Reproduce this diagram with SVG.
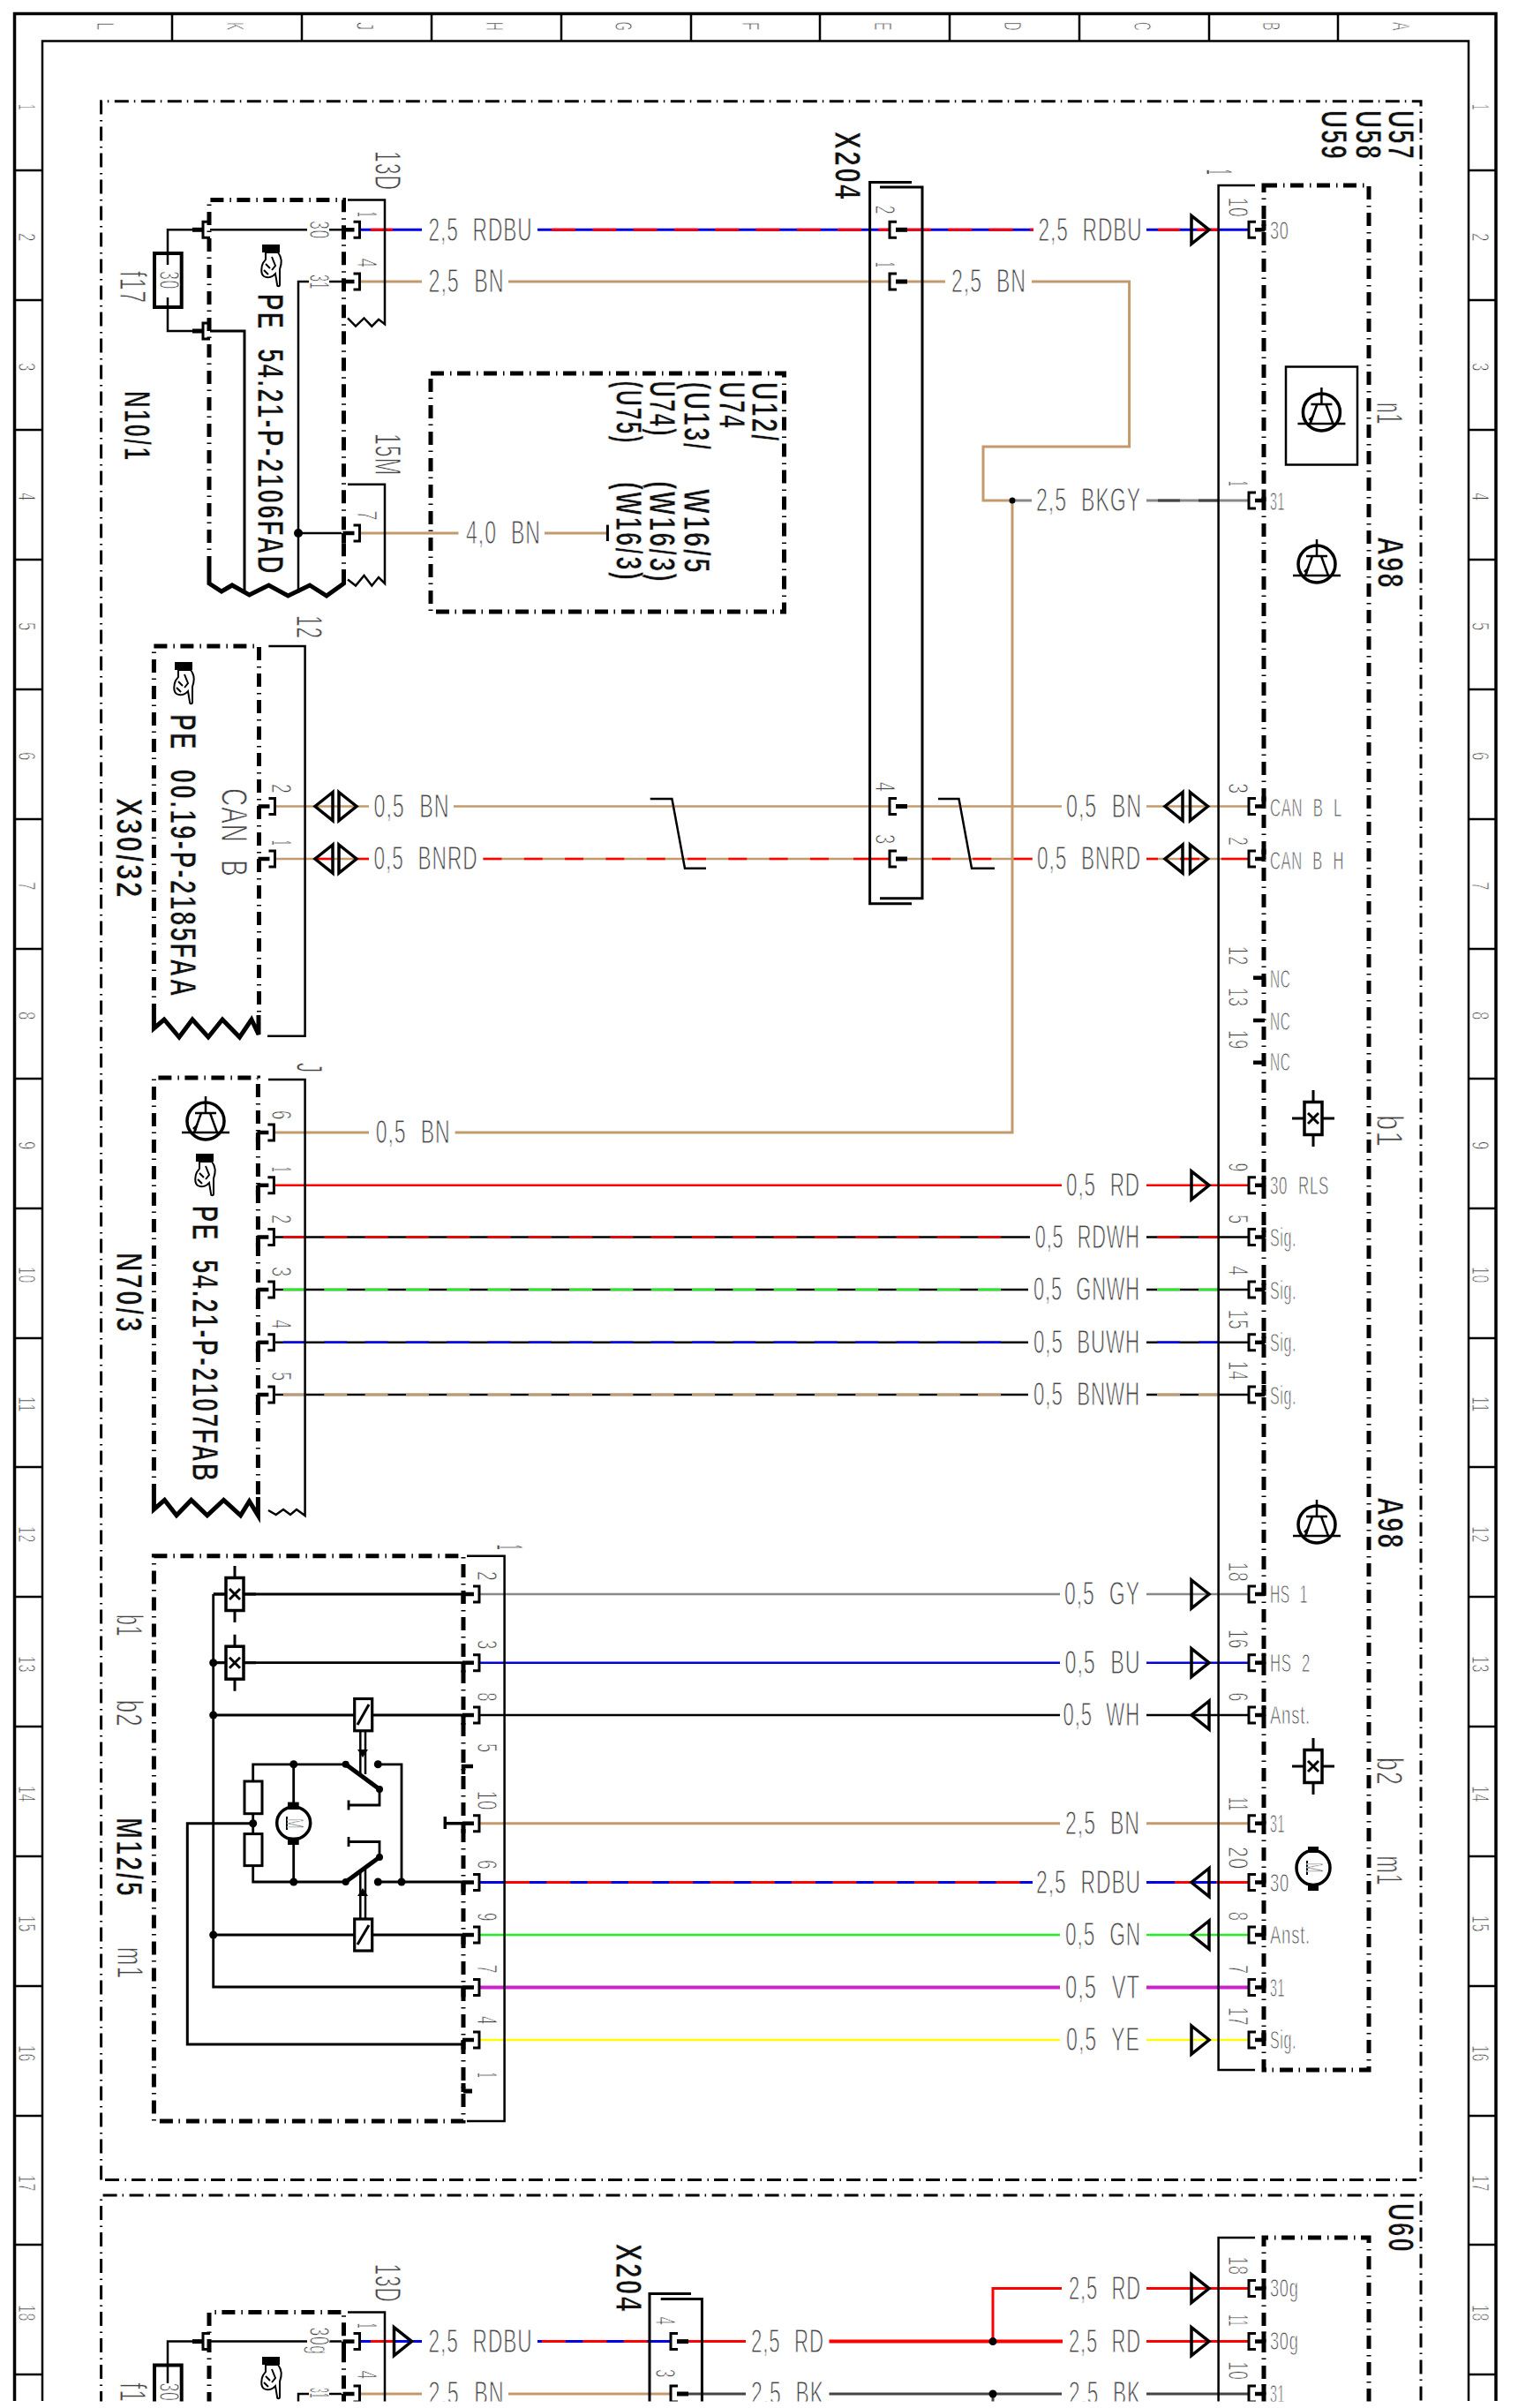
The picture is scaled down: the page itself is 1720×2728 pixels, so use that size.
<svg xmlns="http://www.w3.org/2000/svg" xmlns:xlink="http://www.w3.org/1999/xlink" width="1720" height="2728" viewBox="0 0 1720 2728">
<style>
svg{stroke-width:2.5}
text{font-family:"Liberation Sans",Arial,sans-serif;fill:#444;stroke:#fff;stroke-width:.95;word-spacing:.38em;letter-spacing:.04em}
.wl{font-size:36px}.pl{font-size:30px}.n{font-size:32px}.lb{font-size:42px}.f{font-size:28px}
.b{font-size:43px;font-weight:700;fill:#111;stroke:#fff;stroke-width:.8;letter-spacing:.08em}
path,rect,ellipse,circle{fill:none;stroke:#000}
.fr{stroke-width:3.5}.fi{stroke-width:2.5}.fd{stroke-width:2.5}
.big{stroke-width:3;stroke-dasharray:16 6 1.5 6.5}
.bx{stroke-width:5;stroke-dasharray:15 7 1.5 6.5}
.z{stroke-width:5}.thin{stroke-width:2}
.w{stroke-width:3}.t2{stroke-width:2.6}.t4{stroke-width:4}
.tn{stroke:#c49a6c}.rd{stroke:#f00}.bu{stroke:#0000e6}.gn{stroke:#2e2}.vt{stroke:#c2c}.ye{stroke:#ff0}.gy{stroke:#888}.dk{stroke:#444}.k{stroke:#000}
.d27{stroke-dasharray:27 19.3}.d22{stroke-dasharray:21 25.3}.d26{stroke-dasharray:26 20.3}
.dot{fill:#000;stroke:none}
.tri{stroke-width:3.5}
.w5{fill:#fff;stroke-width:2}
</style>
<defs>
<g id="pL"><path d="M-1,0H12" stroke-width="4.5"/><path d="M0,0V11" stroke-width="5"/><path d="M11,-9H18V9H11" stroke-width="3"/></g>
<g id="pR"><path d="M-10,0H1" stroke-width="4.5"/><path d="M0,1V-11" stroke-width="5"/><path d="M-9,-9H-17V9H-9" stroke-width="3"/></g>
<g id="pX"><path d="M-1,0H12" stroke-width="5"/><path d="M0,-9H-8V9H0" stroke-width="3"/></g>
<g id="pE"><path d="M-19,0H-7" stroke-width="5"/><path d="M1,-9H-7V9H1" stroke-width="3"/></g>
<path id="tR" class="tri" d="M-10,-16L10,0L-10,16Z"/>
<path id="tL" class="tri" d="M10,-16L-10,0L10,16Z"/>
<g id="tr"><circle r="21" stroke-width="3.5"/><path d="M0,-28V-9M-12,-9H12M-5,-9L-13,13M5,-9L13,13M-27,13H27"/><path class="dot" d="M-15,8L-8,2L-11,12Z"/></g>
<g id="sn"><rect x="-10" y="-18.5" width="20" height="37" stroke-width="3.5"/><path d="M0,-32V-18M0,18V32M-24,0H-10M10,0H24" stroke-width="3"/><path d="M-6,-6L6,6M6,-6L-6,6" stroke-width="3"/></g>
<g id="hand"><rect class="dot" x="1" y="0" width="20" height="9"/><path class="w5" d="M5,9H19C23,14 24,20 21,28L21,45C21,48 18,48 18,45L16,33C12,38 6,38 3,36C-1,33 0,25 2,21L5,17Z"/><path class="thin" d="M5,22L10,27M3,29L8,34M12,14L16,24L12,29"/></g>
</defs>

<g id="frame">
<path class="fr" d="M16.5,2720V15.5H1695V2720"/>
<path class="fi" d="M48,2720V46.5H1664V2720"/>
<path class="fd" d="M195,15V46M342,15V46M489,15V46M636,15V46M783,15V46M929,15V46M1076,15V46M1223,15V46M1370,15V46M1516,15V46"/>
<path class="fd" d="M16,193H48M16,340H48M16,487H48M16,634H48M16,781H48M16,928H48M16,1075H48M16,1222H48M16,1369H48M16,1516H48M16,1662H48M16,1809H48M16,1956H48M16,2103H48M16,2250H48M16,2397H48M16,2543H48M16,2690H48"/>
<path class="fd" d="M1664,193H1696M1664,340H1696M1664,487H1696M1664,634H1696M1664,781H1696M1664,928H1696M1664,1075H1696M1664,1222H1696M1664,1369H1696M1664,1516H1696M1664,1662H1696M1664,1809H1696M1664,1956H1696M1664,2103H1696M1664,2250H1696M1664,2397H1696M1664,2543H1696M1664,2690H1696"/>
<text class="f" transform="translate(110,25) rotate(90)" textLength="10" lengthAdjust="spacingAndGlyphs">L</text>
<text class="f" transform="translate(257,25) rotate(90)" textLength="10" lengthAdjust="spacingAndGlyphs">K</text>
<text class="f" transform="translate(404,25) rotate(90)" textLength="10" lengthAdjust="spacingAndGlyphs">J</text>
<text class="f" transform="translate(551,25) rotate(90)" textLength="10" lengthAdjust="spacingAndGlyphs">H</text>
<text class="f" transform="translate(697,25) rotate(90)" textLength="10" lengthAdjust="spacingAndGlyphs">G</text>
<text class="f" transform="translate(841,25) rotate(90)" textLength="10" lengthAdjust="spacingAndGlyphs">F</text>
<text class="f" transform="translate(991,25) rotate(90)" textLength="10" lengthAdjust="spacingAndGlyphs">E</text>
<text class="f" transform="translate(1138,25) rotate(90)" textLength="10" lengthAdjust="spacingAndGlyphs">D</text>
<text class="f" transform="translate(1285,25) rotate(90)" textLength="10" lengthAdjust="spacingAndGlyphs">C</text>
<text class="f" transform="translate(1431,25) rotate(90)" textLength="10" lengthAdjust="spacingAndGlyphs">B</text>
<text class="f" transform="translate(1578,25) rotate(90)" textLength="10" lengthAdjust="spacingAndGlyphs">A</text>

<text class="f" transform="translate(21,118) rotate(90)" textLength="7" lengthAdjust="spacingAndGlyphs">1</text>
<text class="f" transform="translate(21,264) rotate(90)" textLength="10" lengthAdjust="spacingAndGlyphs">2</text>
<text class="f" transform="translate(21,411) rotate(90)" textLength="10" lengthAdjust="spacingAndGlyphs">3</text>
<text class="f" transform="translate(21,558) rotate(90)" textLength="10" lengthAdjust="spacingAndGlyphs">4</text>
<text class="f" transform="translate(21,705) rotate(90)" textLength="10" lengthAdjust="spacingAndGlyphs">5</text>
<text class="f" transform="translate(21,852) rotate(90)" textLength="10" lengthAdjust="spacingAndGlyphs">6</text>
<text class="f" transform="translate(21,999) rotate(90)" textLength="10" lengthAdjust="spacingAndGlyphs">7</text>
<text class="f" transform="translate(21,1146) rotate(90)" textLength="10" lengthAdjust="spacingAndGlyphs">8</text>
<text class="f" transform="translate(21,1293) rotate(90)" textLength="10" lengthAdjust="spacingAndGlyphs">9</text>
<text class="f" transform="translate(21,1435) rotate(90)" textLength="19" lengthAdjust="spacingAndGlyphs">10</text>
<text class="f" transform="translate(21,1582) rotate(90)" textLength="18" lengthAdjust="spacingAndGlyphs">11</text>
<text class="f" transform="translate(21,1729) rotate(90)" textLength="19" lengthAdjust="spacingAndGlyphs">12</text>
<text class="f" transform="translate(21,1876) rotate(90)" textLength="19" lengthAdjust="spacingAndGlyphs">13</text>
<text class="f" transform="translate(21,2023) rotate(90)" textLength="19" lengthAdjust="spacingAndGlyphs">14</text>
<text class="f" transform="translate(21,2170) rotate(90)" textLength="19" lengthAdjust="spacingAndGlyphs">15</text>
<text class="f" transform="translate(21,2317) rotate(90)" textLength="19" lengthAdjust="spacingAndGlyphs">16</text>
<text class="f" transform="translate(21,2464) rotate(90)" textLength="19" lengthAdjust="spacingAndGlyphs">17</text>
<text class="f" transform="translate(21,2611) rotate(90)" textLength="19" lengthAdjust="spacingAndGlyphs">18</text>

<text class="f" transform="translate(1667.5,118) rotate(90)" textLength="7" lengthAdjust="spacingAndGlyphs">1</text>
<text class="f" transform="translate(1667.5,264) rotate(90)" textLength="10" lengthAdjust="spacingAndGlyphs">2</text>
<text class="f" transform="translate(1667.5,411) rotate(90)" textLength="10" lengthAdjust="spacingAndGlyphs">3</text>
<text class="f" transform="translate(1667.5,558) rotate(90)" textLength="10" lengthAdjust="spacingAndGlyphs">4</text>
<text class="f" transform="translate(1667.5,705) rotate(90)" textLength="10" lengthAdjust="spacingAndGlyphs">5</text>
<text class="f" transform="translate(1667.5,852) rotate(90)" textLength="10" lengthAdjust="spacingAndGlyphs">6</text>
<text class="f" transform="translate(1667.5,999) rotate(90)" textLength="10" lengthAdjust="spacingAndGlyphs">7</text>
<text class="f" transform="translate(1667.5,1146) rotate(90)" textLength="10" lengthAdjust="spacingAndGlyphs">8</text>
<text class="f" transform="translate(1667.5,1293) rotate(90)" textLength="10" lengthAdjust="spacingAndGlyphs">9</text>
<text class="f" transform="translate(1667.5,1435) rotate(90)" textLength="19" lengthAdjust="spacingAndGlyphs">10</text>
<text class="f" transform="translate(1667.5,1582) rotate(90)" textLength="18" lengthAdjust="spacingAndGlyphs">11</text>
<text class="f" transform="translate(1667.5,1729) rotate(90)" textLength="19" lengthAdjust="spacingAndGlyphs">12</text>
<text class="f" transform="translate(1667.5,1876) rotate(90)" textLength="19" lengthAdjust="spacingAndGlyphs">13</text>
<text class="f" transform="translate(1667.5,2023) rotate(90)" textLength="19" lengthAdjust="spacingAndGlyphs">14</text>
<text class="f" transform="translate(1667.5,2170) rotate(90)" textLength="19" lengthAdjust="spacingAndGlyphs">15</text>
<text class="f" transform="translate(1667.5,2317) rotate(90)" textLength="19" lengthAdjust="spacingAndGlyphs">16</text>
<text class="f" transform="translate(1667.5,2464) rotate(90)" textLength="19" lengthAdjust="spacingAndGlyphs">17</text>
<text class="f" transform="translate(1667.5,2611) rotate(90)" textLength="19" lengthAdjust="spacingAndGlyphs">18</text>
</g>

<g id="scope-U57-U58-U59">
<path class="big" d="M114.6,2469.6V114.8H1610V2469.6Z"/>
<text class="b" transform="translate(1573,125) rotate(90)" textLength="57" lengthAdjust="spacingAndGlyphs">U57</text>
<text class="b" transform="translate(1536,125) rotate(90)" textLength="57" lengthAdjust="spacingAndGlyphs">U58</text>
<text class="b" transform="translate(1497,125) rotate(90)" textLength="57" lengthAdjust="spacingAndGlyphs">U59</text>
</g>
<g id="scope-U60">
<path class="big" d="M114.6,2725V2487H1610V2725"/>
<text class="b" transform="translate(1573,2496) rotate(90)" textLength="57" lengthAdjust="spacingAndGlyphs">U60</text>
</g>

<g id="connectors">
<path class="w bu" d="M407,260.3H478M609,260.3H1008M1028,260.3H1171M1299,260.3H1415"/>
<path class="w rd" d="M420,260.3H445M1312,260.3H1337M1356,260.3H1381"/>
<path class="w rd d27" d="M625,260.3H1008M1028,260.3H1171"/>
<path class="w tn" d="M407,319H478M576,319H1008M1028,319H1071M1169,319H1279.6V506H1114V567H1147V1283H515.6M312,1283H418"/>
<path class="w gy" d="M1147,567H1169M1299,567H1415"/>
<path class="w dk" d="M1312,567H1337M1358,567H1381"/>
<circle class="dot" cx="1147" cy="567" r="3.5"/>
<path class="w tn" d="M407,604H519.5M617,604H688.4"/>
<path class="w" d="M688.4,594.6V613"/>
<path class="t2 tn" d="M312,913.5H418M514,913.5H1008M1028,913.5H1203M1299,913.5H1415"/>
<path class="t2 tn" d="M312,973H418M547.5,973H1008M1028,973H1170M1299,973H1415"/>
<path class="t2 rd" d="M356.6,973H378M402,973H418M1299,973H1312M1337,973H1359M1384,973H1415M967,973H1008"/>
<path class="t2 rd d22" d="M547.5,973H960M1056,973H1170"/>
<path d="M736.7,905H761.4L776,983.7H800"/>
<path d="M1063,905H1086.5L1101,983.7H1127"/>
<path class="t2 rd" d="M312,1342.8H1203M1299,1342.8H1415"/>
<path class="t2 k" d="M312,1401.5H1167M1299,1401.5H1415M312,1461H1165M1299,1461H1415M312,1520.8H1165M1299,1520.8H1415M312,1580H1165M1299,1580H1415"/>
<path class="t2 rd d26" d="M321,1401.5H1136"/><path class="t2 rd" d="M1311,1401.5H1337M1358,1401.5H1381"/>
<path class="t2 gn d26" d="M321,1461H1136"/><path class="t2 gn" d="M1311,1461H1337M1358,1461H1381"/>
<path class="t2 bu d26" d="M321,1520.8H1136"/><path class="t2 bu" d="M1311,1520.8H1337M1358,1520.8H1381"/>
<path class="t2 tn d26" d="M321,1580H1136"/><path class="t2 tn" d="M1311,1580H1337M1358,1580H1381"/>
<path class="t2 gy" d="M543,1806H1201M1299,1806H1415"/>
<path class="t2 bu" d="M543,1883.7H1201M1299,1883.7H1415"/>
<path class="t2 k" d="M543,1943H1201M1299,1943H1415"/>
<path class="w tn" d="M543,2065.7H1201M1299,2065.7H1415"/>
<path class="w bu" d="M543,2132.5H1170M1299,2132.5H1415"/>
<path class="w rd d27" d="M573,2132.5H1170"/><path class="w rd" d="M1331,2132.5H1350M1378,2132.5H1415"/>
<path class="t2 gn" d="M543,2192H1201M1299,2192H1415"/>
<path class="t4 vt" d="M543,2251.5H1201M1299,2251.5H1415"/>
<path class="t2 ye" d="M543,2311H1201M1299,2311H1415"/>

<path class="w bu" d="M407,2652.6H478M609,2652.6H760"/>
<path class="w rd" d="M420,2652.6H445M779,2652.6H845M1299,2652.6H1415M1125,2652.6V2592.6H1203M1299,2592.6H1415"/>
<path class="w rd d27" d="M614,2652.6H745"/>
<path class="t4 rd" d="M939.5,2652.6H1204"/>
<circle class="dot" cx="1125" cy="2652.6" r="4.5"/>
<path class="w tn" d="M407,2712H478M576,2712H760"/>
<path class="w dk" d="M779,2712H845M939.5,2712H1203M1299,2712H1415M1125,2712V2725"/>
<circle class="dot" cx="1125" cy="2712" r="4.5"/>

<use href="#tR" x="1360" y="260.3"/>
<use href="#tL" x="367" y="913.5"/><use href="#tR" x="394" y="913.5"/>
<use href="#tL" x="367" y="973"/><use href="#tR" x="394" y="973"/>
<use href="#tL" x="1330" y="913.5"/><use href="#tR" x="1358.5" y="913.5"/>
<use href="#tL" x="1330" y="973"/><use href="#tR" x="1358.5" y="973"/>
<use href="#tR" x="1360" y="1342.8"/>
<use href="#tR" x="1360" y="1806"/>
<use href="#tR" x="1360" y="1883.7"/>
<use href="#tL" x="1360" y="1943"/>
<use href="#tL" x="1360" y="2132.5"/>
<use href="#tL" x="1360" y="2192"/>
<use href="#tR" x="1360" y="2311"/>
<use href="#tR" x="1360" y="2592.6"/>
<use href="#tR" x="1360" y="2652.6"/>
<use href="#tR" x="456.5" y="2652.6"/>

<text class="wl" x="485.5" y="272.5" textLength="118" lengthAdjust="spacingAndGlyphs">2,5 RDBU</text>
<text class="wl" x="1176.5" y="272.5" textLength="118" lengthAdjust="spacingAndGlyphs">2,5 RDBU</text>
<text class="wl" x="485.5" y="331" textLength="86" lengthAdjust="spacingAndGlyphs">2,5 BN</text>
<text class="wl" x="1078" y="331" textLength="85" lengthAdjust="spacingAndGlyphs">2,5 BN</text>
<text class="wl" x="1174" y="579" textLength="119" lengthAdjust="spacingAndGlyphs">2,5 BKGY</text>
<text class="wl" x="528" y="616" textLength="85" lengthAdjust="spacingAndGlyphs">4,0 BN</text>
<text class="wl" x="423.5" y="925.5" textLength="86" lengthAdjust="spacingAndGlyphs">0,5 BN</text>
<text class="wl" x="423.5" y="985" textLength="118" lengthAdjust="spacingAndGlyphs">0,5 BNRD</text>
<text class="wl" x="1208" y="925.5" textLength="86" lengthAdjust="spacingAndGlyphs">0,5 BN</text>
<text class="wl" x="1175" y="985" textLength="118" lengthAdjust="spacingAndGlyphs">0,5 BNRD</text>
<text class="wl" x="425.7" y="1295" textLength="85" lengthAdjust="spacingAndGlyphs">0,5 BN</text>
<text class="wl" x="1208" y="1355" textLength="84" lengthAdjust="spacingAndGlyphs">0,5 RD</text>
<text class="wl" x="1172.7" y="1413.5" textLength="119" lengthAdjust="spacingAndGlyphs">0,5 RDWH</text>
<text class="wl" x="1171" y="1473" textLength="121" lengthAdjust="spacingAndGlyphs">0,5 GNWH</text>
<text class="wl" x="1171" y="1533" textLength="121" lengthAdjust="spacingAndGlyphs">0,5 BUWH</text>
<text class="wl" x="1171" y="1592" textLength="121" lengthAdjust="spacingAndGlyphs">0,5 BNWH</text>
<text class="wl" x="1206" y="1818" textLength="86" lengthAdjust="spacingAndGlyphs">0,5 GY</text>
<text class="wl" x="1206.5" y="1896" textLength="86" lengthAdjust="spacingAndGlyphs">0,5 BU</text>
<text class="wl" x="1204.5" y="1955" textLength="87.5" lengthAdjust="spacingAndGlyphs">0,5 WH</text>
<text class="wl" x="1207" y="2078" textLength="85" lengthAdjust="spacingAndGlyphs">2,5 BN</text>
<text class="wl" x="1174" y="2144.5" textLength="119" lengthAdjust="spacingAndGlyphs">2,5 RDBU</text>
<text class="wl" x="1207" y="2204" textLength="86" lengthAdjust="spacingAndGlyphs">0,5 GN</text>
<text class="wl" x="1207" y="2263.5" textLength="85" lengthAdjust="spacingAndGlyphs">0,5 VT</text>
<text class="wl" x="1208" y="2323" textLength="84" lengthAdjust="spacingAndGlyphs">0,5 YE</text>
<text class="wl" x="1211" y="2604.5" textLength="82" lengthAdjust="spacingAndGlyphs">2,5 RD</text>
<text class="wl" x="1211" y="2664.5" textLength="82" lengthAdjust="spacingAndGlyphs">2,5 RD</text>
<text class="wl" x="1211" y="2724" textLength="82" lengthAdjust="spacingAndGlyphs">2,5 BK</text>
<text class="wl" x="485.5" y="2664.7" textLength="118" lengthAdjust="spacingAndGlyphs">2,5 RDBU</text>
<text class="wl" x="485.5" y="2724" textLength="86" lengthAdjust="spacingAndGlyphs">2,5 BN</text>
<text class="wl" x="851" y="2664.7" textLength="83" lengthAdjust="spacingAndGlyphs">2,5 RD</text>
<text class="wl" x="851" y="2724" textLength="83" lengthAdjust="spacingAndGlyphs">2,5 BK</text>
</g>

<g id="node-N10-1">
<path class="bx" d="M237,645V226.4H389.5V645"/>
<path class="z" d="M237,645V661L251,670L263,663L282.5,674L304.5,663L326.4,675L351,663L370,675L389.5,661V645"/>
<path d="M190,300V260.3H218M190,337V375H218M238,260.3H348M373,260.3H387M373,319H387M350,319H338V672M338,604H387"/>
<path d="M238,375H277V672" stroke-width="3"/>
<circle class="dot" cx="338" cy="604" r="5"/>
<rect x="175" y="287" width="30.7" height="61" stroke-width="4"/>
<path d="M394,226.4H436V367.3L429,361.8L421.3,369.6L412.5,360.4L403,369.6L394,360.4"/>
<path d="M394,548.7H436V661L429,654L421.3,663.5L412.5,652L403,663.5L394,656.6"/>
<use href="#pL" x="389.5" y="260.3"/><use href="#pL" x="389.5" y="319"/><use href="#pL" x="389.5" y="604"/>
<use href="#pE" x="237" y="260.3"/><use href="#pE" x="237" y="375"/>
<use href="#hand" x="296" y="277"/>
<text class="n" transform="translate(351,250) rotate(90)" textLength="21" lengthAdjust="spacingAndGlyphs">30</text>
<text class="n" transform="translate(351,311) rotate(90)" textLength="17" lengthAdjust="spacingAndGlyphs">31</text>
<text class="n" transform="translate(181,307) rotate(90)" textLength="21" lengthAdjust="spacingAndGlyphs">30</text>
<text class="lb" transform="translate(136,307) rotate(90)" textLength="37" lengthAdjust="spacingAndGlyphs">f17</text>
<text class="lb" transform="translate(425,171) rotate(90)" textLength="45" lengthAdjust="spacingAndGlyphs">13D</text>
<text class="lb" transform="translate(425,491) rotate(90)" textLength="48" lengthAdjust="spacingAndGlyphs">15M</text>
<text class="n" transform="translate(405,240) rotate(90)" textLength="6" lengthAdjust="spacingAndGlyphs">1</text>
<text class="n" transform="translate(405,292.5) rotate(90)" textLength="11.5" lengthAdjust="spacingAndGlyphs">4</text>
<text class="n" transform="translate(405,578.5) rotate(90)" textLength="11.5" lengthAdjust="spacingAndGlyphs">7</text>
<text class="b" transform="translate(292,333) rotate(90)" textLength="319" lengthAdjust="spacingAndGlyphs">PE 54.21-P-2106FAD</text>
<text class="b" transform="translate(141,443) rotate(90)" textLength="80" lengthAdjust="spacingAndGlyphs">N10/1</text>
</g>

<g id="node-U12">
<path class="bx" d="M488,423H888.5V693H488Z"/>
<text class="b" transform="translate(852,433) rotate(90)" textLength="69" lengthAdjust="spacingAndGlyphs">U12/</text>
<text class="b" transform="translate(814.6,432.5) rotate(90)" textLength="54" lengthAdjust="spacingAndGlyphs">U74</text>
<text class="b" transform="translate(775,432.5) rotate(90)" textLength="79" lengthAdjust="spacingAndGlyphs">(U13/</text>
<text class="b" transform="translate(736,431.6) rotate(90)" textLength="64" lengthAdjust="spacingAndGlyphs">U74)</text>
<text class="b" transform="translate(698,431.6) rotate(90)" textLength="72" lengthAdjust="spacingAndGlyphs">(U75)</text>
<text class="b" transform="translate(775,554) rotate(90)" textLength="97" lengthAdjust="spacingAndGlyphs">W16/5</text>
<text class="b" transform="translate(736,545) rotate(90)" textLength="116" lengthAdjust="spacingAndGlyphs">(W16/3)</text>
<text class="b" transform="translate(698,546) rotate(90)" textLength="113" lengthAdjust="spacingAndGlyphs">(W16/3)</text>
</g>

<g id="node-X204">
<path class="w" d="M1033,206.6H985.6V1023.7H1033"/>
<path class="w" d="M997,212H1045V1017.7H997"/>
<use href="#pX" x="1016" y="260.3"/><use href="#pX" x="1016" y="319"/><use href="#pX" x="1016" y="913.5"/><use href="#pX" x="1016" y="973"/>
<text class="b" transform="translate(946,149) rotate(90)" textLength="79" lengthAdjust="spacingAndGlyphs">X204</text>
<text class="n" transform="translate(992,232.8) rotate(90)" textLength="10.5" lengthAdjust="spacingAndGlyphs">2</text>
<text class="n" transform="translate(992,297) rotate(90)" textLength="6" lengthAdjust="spacingAndGlyphs">1</text>
<text class="n" transform="translate(992,886) rotate(90)" textLength="11.5" lengthAdjust="spacingAndGlyphs">4</text>
<text class="n" transform="translate(992,945) rotate(90)" textLength="12" lengthAdjust="spacingAndGlyphs">3</text>
</g>

<g id="node-X30-32">
<path class="bx" d="M174.4,1152V732H293.5V1150"/>
<path class="z" d="M174.4,1152V1165L186,1155L203,1175L218,1155L236,1175L252,1155L271.5,1175L285,1155L293,1172V1150"/>
<path d="M304.4,732H345.6V1173.8H303"/>
<use href="#pL" x="293.5" y="913.5"/><use href="#pL" x="293.5" y="973"/>
<use href="#hand" x="197" y="750"/>
<text class="lb" transform="translate(336,697) rotate(90)" textLength="27" lengthAdjust="spacingAndGlyphs">12</text>
<text class="n" transform="translate(308,888) rotate(90)" textLength="11.5" lengthAdjust="spacingAndGlyphs">2</text>
<text class="n" transform="translate(308,952) rotate(90)" textLength="6" lengthAdjust="spacingAndGlyphs">1</text>
<text class="lb" transform="translate(251,893) rotate(90)" textLength="101" lengthAdjust="spacingAndGlyphs">CAN B</text>
<text class="b" transform="translate(193,809) rotate(90)" textLength="322" lengthAdjust="spacingAndGlyphs">PE 00.19-P-2185FAA</text>
<text class="b" transform="translate(132,904) rotate(90)" textLength="115" lengthAdjust="spacingAndGlyphs">X30/32</text>
</g>

<g id="node-N70-3">
<path class="bx" d="M174.4,1696V1221H292.4V1696"/>
<path class="z" d="M174.4,1696V1710L186.5,1699.4L200,1716.8L216.7,1699.4L234.8,1716.8L253.4,1699.4L272.6,1716.8L282.5,1700.7L292.4,1716.8V1696"/>
<path d="M304,1223H345.6V1717L336,1710L329,1716L321,1710L312.7,1716L304,1711"/>
<use href="#pL" x="292.4" y="1283"/><use href="#pL" x="292.4" y="1342.8"/><use href="#pL" x="292.4" y="1401.5"/><use href="#pL" x="292.4" y="1461"/><use href="#pL" x="292.4" y="1520.8"/><use href="#pL" x="292.4" y="1580"/>
<use href="#tr" x="233" y="1270"/>
<use href="#hand" x="221" y="1307"/>
<text class="lb" transform="translate(336,1204) rotate(90)" textLength="12" lengthAdjust="spacingAndGlyphs">J</text>
<text class="n" transform="translate(308,1258) rotate(90)" textLength="11" lengthAdjust="spacingAndGlyphs">6</text>
<text class="n" transform="translate(308,1322) rotate(90)" textLength="6" lengthAdjust="spacingAndGlyphs">1</text>
<text class="n" transform="translate(308,1376) rotate(90)" textLength="11" lengthAdjust="spacingAndGlyphs">2</text>
<text class="n" transform="translate(308,1435) rotate(90)" textLength="12" lengthAdjust="spacingAndGlyphs">3</text>
<text class="n" transform="translate(308,1495) rotate(90)" textLength="11" lengthAdjust="spacingAndGlyphs">4</text>
<text class="n" transform="translate(308,1554) rotate(90)" textLength="11" lengthAdjust="spacingAndGlyphs">5</text>
<text class="b" transform="translate(218,1366) rotate(90)" textLength="314" lengthAdjust="spacingAndGlyphs">PE 54.21-P-2107FAB</text>
<text class="b" transform="translate(132,1419) rotate(90)" textLength="92" lengthAdjust="spacingAndGlyphs">N70/3</text>
</g>

<g id="node-M12-5">
<path class="bx" d="M174.4,1762.7H525V2403H174.4Z"/>
<path d="M529,1762.7H571.6V2403H529"/>
<path d="M276,1806H524M276,1883.7H524M241.7,1806V2251H524M241.7,1806H256M241.7,1883.7H256M241.7,1943H524M241.7,2192H524" stroke-width="2.8"/>
<path d="M286.7,2065.7H212.3V2316H524" stroke-width="3"/>
<use href="#sn" x="266" y="1806"/><use href="#sn" x="266" y="1883.7"/>
<circle class="dot" cx="241.7" cy="1883.7" r="4.5"/><circle class="dot" cx="241.7" cy="1943" r="4.5"/><circle class="dot" cx="241.7" cy="2192" r="4.5"/>
<rect x="401.7" y="1924.5" width="20" height="36.3" stroke-width="3.2" style="fill:#fff"/>
<path d="M405,1954L418,1931" stroke-width="3"/>
<rect x="401.7" y="2174" width="20" height="36" stroke-width="3.2" style="fill:#fff"/>
<path d="M405,2203L418,2181" stroke-width="3"/>
<path d="M408.3,1961V2010M414,1961V2010M408.3,2118V2174M414,2118V2174"/>
<path class="dot" d="M405,1982H417L411,1991Z"/><path class="dot" d="M405,2148H417L411,2139Z"/>
<path d="M391.7,1998.8L430,2027" stroke-width="5"/><path d="M391.7,2132L430,2104" stroke-width="5"/>
<circle class="dot" cx="391.7" cy="1998.8" r="4"/><circle class="dot" cx="430" cy="2027" r="4"/><circle class="dot" cx="391.7" cy="2132" r="4"/><circle class="dot" cx="430" cy="2104" r="4"/>
<circle class="dot" cx="428.3" cy="1998.8" r="4.5"/><circle class="dot" cx="428.3" cy="2132" r="4.5"/>
<circle class="dot" cx="332.7" cy="1998.8" r="4.5"/><circle class="dot" cx="332.7" cy="2132" r="4.5"/><circle class="dot" cx="455" cy="2132" r="4.5"/><circle class="dot" cx="286.7" cy="2065.7" r="4.5"/>
<path d="M428.3,1998.8H455V2132M428.3,2132H524M286.7,2018V1998.8H391.7M286.7,2113.5V2132H391.7M286.7,2054.7V2077.6M332.7,1998.8V2042M332.7,2090V2132M430,2027V2045H395M395,2039.6V2050.6M430,2104V2086.5H395M395,2081V2092" stroke-width="2.8"/>
<rect x="277" y="2018" width="20" height="36.7" stroke-width="3"/><rect x="277" y="2077.6" width="20" height="36" stroke-width="3"/>
<ellipse cx="332.7" cy="2065.3" rx="19" ry="18.4" stroke-width="3.5"/>
<rect class="dot" x="326" y="2041.6" width="12.7" height="8.4"/><rect class="dot" x="326" y="2081.6" width="12.7" height="8.4"/>
<path d="M325,2058V2073" stroke-width="2"/>
<text transform="translate(326,2060) rotate(90)" font-size="26" textLength="12" lengthAdjust="spacingAndGlyphs">M</text>
<path d="M504.3,2058V2072" stroke-width="3.5"/><path d="M504.3,2065.7H525" stroke-width="3.5"/>
<use href="#pL" x="525" y="1806"/><use href="#pL" x="525" y="1883.7"/><use href="#pL" x="525" y="1943"/><use href="#pL" x="525" y="2065.7"/><use href="#pL" x="525" y="2132.5"/><use href="#pL" x="525" y="2192"/><use href="#pL" x="525" y="2251.5"/><use href="#pL" x="525" y="2311"/>
<path d="M525,2010V2001H536" stroke-width="4.5"/><path d="M525,2369H535" stroke-width="5"/><path d="M525,2360V2370" stroke-width="5"/>
<text class="lb" transform="translate(563,1750) rotate(90)" textLength="6" lengthAdjust="spacingAndGlyphs">1</text>
<text class="n" transform="translate(541.4,1780) rotate(90)" textLength="11.5" lengthAdjust="spacingAndGlyphs">2</text>
<text class="n" transform="translate(541.4,1858) rotate(90)" textLength="11" lengthAdjust="spacingAndGlyphs">3</text>
<text class="n" transform="translate(541.4,1917.4) rotate(90)" textLength="10.5" lengthAdjust="spacingAndGlyphs">8</text>
<text class="n" transform="translate(541.4,1975) rotate(90)" textLength="11" lengthAdjust="spacingAndGlyphs">5</text>
<text class="n" transform="translate(541.4,2029) rotate(90)" textLength="22" lengthAdjust="spacingAndGlyphs">10</text>
<text class="n" transform="translate(541.4,2107) rotate(90)" textLength="11.5" lengthAdjust="spacingAndGlyphs">6</text>
<text class="n" transform="translate(541.4,2167) rotate(90)" textLength="10" lengthAdjust="spacingAndGlyphs">9</text>
<text class="n" transform="translate(541.4,2226) rotate(90)" textLength="10" lengthAdjust="spacingAndGlyphs">7</text>
<text class="n" transform="translate(541.4,2284) rotate(90)" textLength="10" lengthAdjust="spacingAndGlyphs">4</text>
<text class="n" transform="translate(541.4,2348) rotate(90)" textLength="6" lengthAdjust="spacingAndGlyphs">1</text>
<text class="lb" transform="translate(132,1829) rotate(90)" textLength="25.5" lengthAdjust="spacingAndGlyphs">b1</text>
<text class="lb" transform="translate(132,1925.7) rotate(90)" textLength="31" lengthAdjust="spacingAndGlyphs">b2</text>
<text class="b" transform="translate(132,2059) rotate(90)" textLength="91" lengthAdjust="spacingAndGlyphs">M12/5</text>
<text class="lb" transform="translate(133,2206) rotate(90)" textLength="36" lengthAdjust="spacingAndGlyphs">m1</text>
</g>

<g id="node-A98">
<path class="bx" d="M1432,210H1551V2345H1432Z"/>
<path d="M1422,210H1380.6V2345H1422"/>
<rect x="1457" y="415.5" width="81" height="111" stroke-width="2.5"/>
<use href="#tr" x="1497.4" y="467"/><use href="#tr" x="1492" y="639"/><use href="#tr" x="1492" y="1727"/>
<use href="#sn" x="1488" y="1267"/><use href="#sn" x="1488" y="2001"/>
<ellipse cx="1488" cy="2116" rx="19" ry="19.5" stroke-width="3.5"/>
<rect class="dot" x="1482" y="2092" width="12" height="7"/><rect class="dot" x="1482" y="2134" width="12" height="8"/>
<path d="M1481,2108V2124" stroke-width="2"/>
<text transform="translate(1481,2110) rotate(90)" font-size="26" textLength="12" lengthAdjust="spacingAndGlyphs">M</text>
<use href="#pR" x="1432" y="260.3"/><use href="#pR" x="1432" y="567"/><use href="#pR" x="1432" y="913.5"/><use href="#pR" x="1432" y="973"/>
<path d="M1420,1107.7H1433M1432,1107V1118M1420,1156H1433M1420,1203.7H1433" stroke-width="4.5"/>
<use href="#pR" x="1432" y="1342.8"/><use href="#pR" x="1432" y="1401.5"/><use href="#pR" x="1432" y="1461"/><use href="#pR" x="1432" y="1520.8"/><use href="#pR" x="1432" y="1580"/>
<use href="#pR" x="1432" y="1806"/><use href="#pR" x="1432" y="1883.7"/><use href="#pR" x="1432" y="1943"/><use href="#pR" x="1432" y="2065.7"/><use href="#pR" x="1432" y="2132.5"/><use href="#pR" x="1432" y="2192"/><use href="#pR" x="1432" y="2251.5"/><use href="#pR" x="1432" y="2311"/>
<text class="lb" transform="translate(1367,192) rotate(90)" textLength="6" lengthAdjust="spacingAndGlyphs">1</text>
<text class="n" transform="translate(1392,223.6) rotate(90)" textLength="23" lengthAdjust="spacingAndGlyphs">10</text>
<text class="n" transform="translate(1392,545) rotate(90)" textLength="6" lengthAdjust="spacingAndGlyphs">1</text>
<text class="n" transform="translate(1392,887) rotate(90)" textLength="13" lengthAdjust="spacingAndGlyphs">3</text>
<text class="n" transform="translate(1392,948) rotate(90)" textLength="10.5" lengthAdjust="spacingAndGlyphs">2</text>
<text class="n" transform="translate(1392,1072) rotate(90)" textLength="22" lengthAdjust="spacingAndGlyphs">12</text>
<text class="n" transform="translate(1392,1118.7) rotate(90)" textLength="22" lengthAdjust="spacingAndGlyphs">13</text>
<text class="n" transform="translate(1392,1167) rotate(90)" textLength="22" lengthAdjust="spacingAndGlyphs">19</text>
<text class="n" transform="translate(1392,1317.5) rotate(90)" textLength="10.5" lengthAdjust="spacingAndGlyphs">9</text>
<text class="n" transform="translate(1392,1376) rotate(90)" textLength="11" lengthAdjust="spacingAndGlyphs">5</text>
<text class="n" transform="translate(1392,1434) rotate(90)" textLength="12" lengthAdjust="spacingAndGlyphs">4</text>
<text class="n" transform="translate(1392,1483.6) rotate(90)" textLength="23" lengthAdjust="spacingAndGlyphs">15</text>
<text class="n" transform="translate(1392,1542) rotate(90)" textLength="22" lengthAdjust="spacingAndGlyphs">14</text>
<text class="n" transform="translate(1392,1769.6) rotate(90)" textLength="23" lengthAdjust="spacingAndGlyphs">18</text>
<text class="n" transform="translate(1392,1846) rotate(90)" textLength="22" lengthAdjust="spacingAndGlyphs">16</text>
<text class="n" transform="translate(1392,1917.4) rotate(90)" textLength="10.5" lengthAdjust="spacingAndGlyphs">6</text>
<text class="n" transform="translate(1392,2036) rotate(90)" textLength="16" lengthAdjust="spacingAndGlyphs">11</text>
<text class="n" transform="translate(1392,2092) rotate(90)" textLength="26" lengthAdjust="spacingAndGlyphs">20</text>
<text class="n" transform="translate(1392,2166) rotate(90)" textLength="10.5" lengthAdjust="spacingAndGlyphs">8</text>
<text class="n" transform="translate(1392,2226) rotate(90)" textLength="10.5" lengthAdjust="spacingAndGlyphs">7</text>
<text class="n" transform="translate(1392,2274) rotate(90)" textLength="21" lengthAdjust="spacingAndGlyphs">17</text>
<text class="pl" x="1439" y="271" textLength="21.6" lengthAdjust="spacingAndGlyphs">30</text>
<text class="pl" x="1439" y="577.6" textLength="17" lengthAdjust="spacingAndGlyphs">31</text>
<text class="pl" x="1439" y="925" textLength="82" lengthAdjust="spacingAndGlyphs">CAN B L</text>
<text class="pl" x="1439" y="985" textLength="84" lengthAdjust="spacingAndGlyphs">CAN B H</text>
<text class="pl" x="1439" y="1119" textLength="23.5" lengthAdjust="spacingAndGlyphs">NC</text>
<text class="pl" x="1439" y="1167" textLength="23.5" lengthAdjust="spacingAndGlyphs">NC</text>
<text class="pl" x="1439" y="1213" textLength="23.5" lengthAdjust="spacingAndGlyphs">NC</text>
<text class="pl" x="1439" y="1353" textLength="67" lengthAdjust="spacingAndGlyphs">30 RLS</text>
<text class="pl" x="1439" y="1412" textLength="30" lengthAdjust="spacingAndGlyphs">Sig.</text>
<text class="pl" x="1439" y="1471.5" textLength="30" lengthAdjust="spacingAndGlyphs">Sig.</text>
<text class="pl" x="1439" y="1531" textLength="30" lengthAdjust="spacingAndGlyphs">Sig.</text>
<text class="pl" x="1439" y="1590.5" textLength="30" lengthAdjust="spacingAndGlyphs">Sig.</text>
<text class="pl" x="1439" y="1816" textLength="43" lengthAdjust="spacingAndGlyphs">HS 1</text>
<text class="pl" x="1439" y="1894" textLength="46" lengthAdjust="spacingAndGlyphs">HS 2</text>
<text class="pl" x="1439" y="1953" textLength="46" lengthAdjust="spacingAndGlyphs">Anst.</text>
<text class="pl" x="1439" y="2076" textLength="17" lengthAdjust="spacingAndGlyphs">31</text>
<text class="pl" x="1439" y="2142.5" textLength="22" lengthAdjust="spacingAndGlyphs">30</text>
<text class="pl" x="1439" y="2202" textLength="46" lengthAdjust="spacingAndGlyphs">Anst.</text>
<text class="pl" x="1439" y="2261.5" textLength="17" lengthAdjust="spacingAndGlyphs">31</text>
<text class="pl" x="1439" y="2321" textLength="30" lengthAdjust="spacingAndGlyphs">Sig.</text>
<text class="lb" transform="translate(1560,456) rotate(90)" textLength="25" lengthAdjust="spacingAndGlyphs">n1</text>
<text class="lb" transform="translate(1560,1263) rotate(90)" textLength="37" lengthAdjust="spacingAndGlyphs">b1</text>
<text class="lb" transform="translate(1560,1991) rotate(90)" textLength="32" lengthAdjust="spacingAndGlyphs">b2</text>
<text class="lb" transform="translate(1560,2102.5) rotate(90)" textLength="34" lengthAdjust="spacingAndGlyphs">m1</text>
<text class="b" transform="translate(1560.5,608) rotate(90)" textLength="60" lengthAdjust="spacingAndGlyphs">A98</text>
<text class="b" transform="translate(1560.5,1696) rotate(90)" textLength="60" lengthAdjust="spacingAndGlyphs">A98</text>
</g>

<g id="node-N10-1-lower">
<path class="bx" d="M237,2725V2619.4H389.5V2725"/>
<path d="M190,2680V2652.6H218M238,2652.6H348M373,2652.6H387M373,2712H387M350,2712H338V2725M190,2680V2700"/>
<rect x="175" y="2679.5" width="30.7" height="61" stroke-width="4"/>
<path d="M394,2619.4H436V2725"/>
<use href="#pL" x="389.5" y="2652.6"/><use href="#pL" x="389.5" y="2712"/><use href="#pE" x="237" y="2652.6"/>
<use href="#hand" x="296" y="2670"/>
<text class="lb" transform="translate(425,2564.6) rotate(90)" textLength="44" lengthAdjust="spacingAndGlyphs">13D</text>
<text class="n" transform="translate(351,2636.6) rotate(90)" textLength="31" lengthAdjust="spacingAndGlyphs">30g</text>
<text class="n" transform="translate(351,2705) rotate(90)" textLength="12" lengthAdjust="spacingAndGlyphs">31</text>
<text class="n" transform="translate(405,2632) rotate(90)" textLength="6" lengthAdjust="spacingAndGlyphs">1</text>
<text class="n" transform="translate(405,2685.5) rotate(90)" textLength="10.5" lengthAdjust="spacingAndGlyphs">4</text>
<text class="n" transform="translate(181,2699.5) rotate(90)" textLength="21" lengthAdjust="spacingAndGlyphs">30</text>
<text class="lb" transform="translate(136,2699.5) rotate(90)" textLength="37" lengthAdjust="spacingAndGlyphs">f17</text>
</g>

<g id="node-X204-lower">
<path class="w" d="M783,2598.6H736V2725"/>
<path class="w" d="M748.7,2604.6H795.4V2725"/>
<use href="#pX" x="768" y="2652.6"/><use href="#pX" x="768" y="2712"/>
<text class="b" transform="translate(698,2541.7) rotate(90)" textLength="79" lengthAdjust="spacingAndGlyphs">X204</text>
<text class="n" transform="translate(743,2624.6) rotate(90)" textLength="10" lengthAdjust="spacingAndGlyphs">4</text>
<text class="n" transform="translate(743,2684) rotate(90)" textLength="10" lengthAdjust="spacingAndGlyphs">3</text>
</g>

<g id="node-A98-lower">
<path class="bx" d="M1432,2725V2535H1551V2725"/>
<path d="M1422,2535H1380.6V2725"/>
<use href="#pR" x="1432" y="2592.6"/><use href="#pR" x="1432" y="2652.6"/><use href="#pR" x="1432" y="2712"/>
<text class="n" transform="translate(1392,2556.5) rotate(90)" textLength="21" lengthAdjust="spacingAndGlyphs">18</text>
<text class="n" transform="translate(1392,2622) rotate(90)" textLength="14" lengthAdjust="spacingAndGlyphs">11</text>
<text class="n" transform="translate(1392,2675.5) rotate(90)" textLength="21" lengthAdjust="spacingAndGlyphs">10</text>
<text class="pl" x="1439" y="2602" textLength="32.6" lengthAdjust="spacingAndGlyphs">30g</text>
<text class="pl" x="1439" y="2662" textLength="32.6" lengthAdjust="spacingAndGlyphs">30g</text>
<text class="pl" x="1439" y="2722" textLength="17" lengthAdjust="spacingAndGlyphs">31</text>
</g>
<rect x="0" y="2720.5" width="1720" height="8" style="fill:#fff;stroke:none"/>
</svg>
